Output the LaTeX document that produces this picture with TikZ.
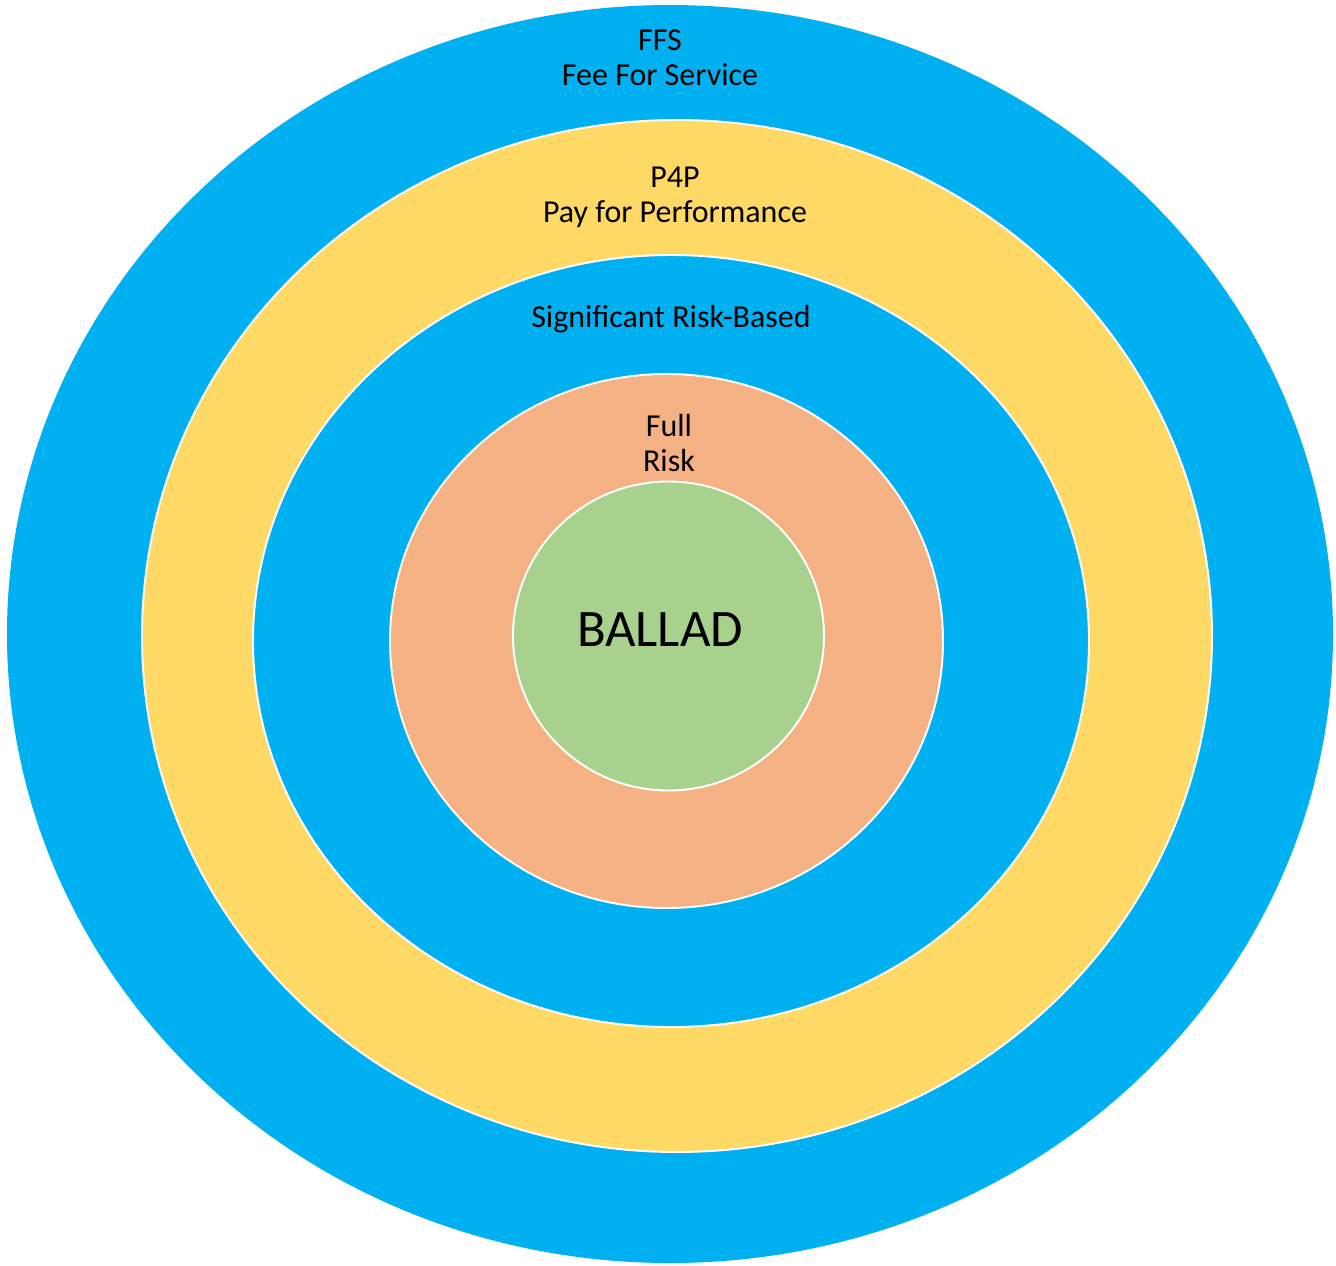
\documentclass[tikz,border=0pt]{standalone}
\usepackage{fontspec}
\setmainfont{Carlito}
\definecolor{ringblue}{HTML}{00B0F0}
\definecolor{ringyellow}{HTML}{FFD966}
\definecolor{ringorange}{HTML}{F4B183}
\definecolor{ringgreen}{HTML}{A9D18E}
\begin{document}
\begin{tikzpicture}[ring/.style={draw=white, line width=1.1pt},
    label/.style={align=center, font=\fontsize{18.2}{20}\selectfont, text=black}]
    \useasboundingbox (0,0) rectangle (26.72,-25.30);

% rings, from outside in
    \fill[ringblue] (13.40,-12.68) ellipse [x radius=13.26, y radius=12.58];
    \filldraw[ring, fill=ringyellow] (13.54,-12.72) ellipse [x radius=10.70, y radius=10.32];
    \filldraw[ring, fill=ringblue] (13.42,-12.82) ellipse [x radius=8.36, y radius=7.72];
    \filldraw[ring, fill=ringorange] (13.33,-12.82) ellipse [x radius=5.53, y radius=5.34];
    \filldraw[ring, fill=ringgreen] (13.37,-12.72) ellipse [x radius=3.11, y radius=3.09];

% labels
    \node[label] (ffs) at (13.20,-1.16) {FFS\\Fee For Service};
    \node[label] (pfp) at (13.50,-3.94) {P4P\\Pay for Performance};
    \node[label] (srb) at (13.42,-6.38) {Significant Risk-Based};
    \node[label] (full) at (13.38,-8.86) {Full\\Risk};
    \node[label, font=\fontsize{30}{36}\selectfont] (ballad) at (13.20,-12.60) {BALLAD};
\end{tikzpicture}
\end{document}
